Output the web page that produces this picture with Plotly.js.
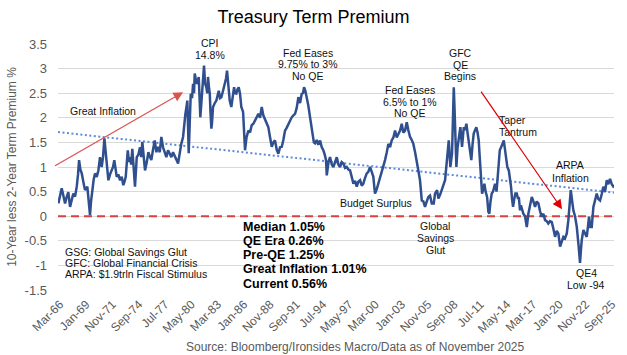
<!DOCTYPE html>
<html>
<head>
<meta charset="utf-8">
<script src="https://cdn.plot.ly/plotly-3.0.1.min.js"></script>
<style>html,body{margin:0;padding:0;background:#fff;}#chart{width:627px;height:355px;}</style>
</head>
<body>
<div id="chart"></div>
<script>
// Decimal-year dates and 10y-2y term premium (%)
const years = [
1965.99,1966.17,1966.35,1966.49,1966.71,1966.87,1967.06,1967.25,1967.41,1967.60,1967.79,1967.97,
1968.11,1968.22,1968.36,1968.51,1968.68,1968.86,1969.11,1969.26,1969.40,1969.51,1969.65,1969.80,1969.94,
1970.13,1970.30,1970.48,1970.66,1970.80,1970.95,1971.07,1971.20,1971.38,1971.56,1971.74,1971.88,
1972.02,1972.15,1972.28,1972.45,1972.64,1972.82,1972.99,1973.12,1973.25,1973.47,1973.61,1973.72,1973.84,1973.96,
1974.11,1974.25,1974.44,1974.61,1974.79,1974.92,1975.04,1975.19,1975.33,1975.52,1975.69,1975.87,
1976.01,1976.19,1976.38,1976.55,1976.73,1976.92,1977.09,1977.27,1977.46,1977.63,1977.81,1977.99,
1978.17,1978.35,1978.53,1978.71,1978.89,1979.07,1979.24,1979.43,1979.56,1979.68,1979.78,1979.89,1979.97,
1980.04,1980.15,1980.26,1980.40,1980.51,1980.61,1980.69,1980.83,1980.94,1981.12,1981.21,1981.29,1981.40,
1981.51,1981.61,1981.69,1981.80,1981.94,1982.04,1982.12,1982.23,1982.31,1982.39,1982.48,1982.55,1982.66,1982.85,
1983.02,1983.15,1983.28,1983.42,1983.56,1983.74,1983.92,1984.06,1984.17,1984.31,1984.46,1984.63,1984.79,1984.93,
1985.03,1985.17,1985.30,1985.43,1985.57,1985.71,1985.90,1986.02,1986.11,1986.27,1986.47,1986.65,1986.83,
1987.01,1987.19,1987.37,1987.55,1987.73,1987.91,1988.08,1988.27,1988.45,1988.62,1988.81,1988.99,
1989.16,1989.34,1989.53,1989.70,1989.88,1990.07,1990.24,1990.42,1990.61,1990.78,1990.96,
1991.14,1991.32,1991.50,1991.68,1991.86,1992.04,1992.22,1992.36,1992.47,1992.61,1992.76,1992.93,
1993.12,1993.26,1993.41,1993.53,1993.66,1993.84,1994.01,1994.20,1994.38,1994.55,1994.70,1994.84,1994.92,
1995.00,1995.11,1995.27,1995.46,1995.63,1995.81,1996.00,1996.17,1996.35,1996.53,1996.71,1996.89,
1997.07,1997.25,1997.43,1997.61,1997.79,1997.97,1998.15,1998.32,1998.51,1998.69,1998.86,
1999.05,1999.23,1999.40,1999.58,1999.77,1999.94,2000.04,2000.12,2000.31,2000.48,2000.66,2000.85,
2001.02,2001.20,2001.39,2001.56,2001.74,2001.92,2002.10,2002.28,2002.46,2002.64,2002.82,
2003.00,2003.17,2003.36,2003.54,2003.71,2003.90,2004.08,2004.25,2004.44,2004.62,2004.79,2004.97,
2005.08,2005.16,2005.33,2005.51,2005.70,2005.87,2006.05,2006.24,2006.45,2006.59,2006.81,2006.95,
2007.16,2007.31,2007.53,2007.67,2007.78,2007.88,2007.99,2008.07,2008.15,2008.24,2008.34,2008.42,
2008.51,2008.61,2008.69,2008.78,2008.89,2009.02,2009.15,2009.32,2009.42,2009.50,2009.61,2009.69,2009.82,2009.97,
2010.09,2010.22,2010.36,2010.50,2010.63,2010.76,2010.90,2011.04,2011.17,2011.30,2011.39,2011.47,2011.57,2011.66,
2011.79,2011.91,2012.04,2012.20,2012.34,2012.44,2012.57,2012.70,2012.84,2012.95,
2013.06,2013.22,2013.35,2013.46,2013.57,2013.71,2013.81,2013.92,2014.00,2014.14,2014.24,2014.38,2014.54,2014.68,2014.78,2014.89,
2015.00,2015.13,2015.25,2015.40,2015.54,2015.62,2015.75,2015.85,2016.11,2016.29,2016.48,2016.65,2016.83,
2017.02,2017.19,2017.37,2017.55,2017.73,2017.91,2018.09,2018.27,2018.45,2018.63,2018.80,2018.99,
2019.17,2019.34,2019.53,2019.71,2019.88,2020.07,2020.25,2020.42,2020.60,2020.79,2020.96,
2021.09,2021.22,2021.34,2021.50,2021.68,2021.87,2022.04,2022.14,2022.22,2022.31,2022.40,2022.58,2022.76,2022.94,
2023.08,2023.19,2023.33,2023.48,2023.66,2023.84,2024.02,2024.19,2024.38,2024.56,2024.73,2024.92,
2025.10,2025.27,2025.45,2025.64,2025.78,2025.88
];
const premium = [
0.26,0.40,0.57,0.45,0.26,0.38,0.49,0.19,0.35,0.46,0.40,0.60,
0.85,1.14,0.95,0.87,0.70,0.53,0.60,0.35,0.02,0.30,0.60,0.75,0.87,
0.80,0.93,1.20,1.00,1.20,1.58,1.30,1.14,0.73,0.85,0.93,1.00,
1.14,0.95,0.80,0.85,0.73,0.80,0.63,0.70,0.80,1.34,1.10,1.20,1.05,1.37,
1.00,0.60,1.20,1.25,1.40,1.20,1.51,1.20,0.93,1.10,1.30,1.20,
1.14,1.35,1.54,1.30,1.41,1.30,1.61,1.40,1.27,1.20,1.34,1.25,
1.20,1.30,1.24,1.15,1.07,1.30,1.47,1.61,1.90,2.08,2.20,2.35,1.80,
1.28,1.90,2.49,2.40,2.69,2.50,2.90,2.75,2.69,2.83,2.40,2.01,2.30,
2.55,2.80,3.06,2.70,2.62,2.50,2.83,2.60,2.49,2.10,1.78,1.90,2.22,2.30,
2.35,2.45,2.55,2.40,2.42,2.55,2.69,2.80,2.96,2.60,2.35,2.22,2.45,2.62,
2.50,2.49,2.58,2.62,2.49,2.22,2.12,1.70,1.34,1.60,1.74,1.70,1.85,
1.88,1.95,2.00,2.08,2.00,2.22,2.05,1.95,1.90,1.81,1.60,1.41,
1.50,1.54,1.35,1.27,1.40,1.41,1.55,1.74,1.80,1.88,1.95,
2.01,2.05,2.08,2.20,2.42,2.30,2.49,2.50,2.62,2.55,2.42,2.25,
2.01,1.80,1.61,1.50,1.48,1.55,1.45,1.54,1.40,1.34,1.25,1.14,0.83,
1.00,1.10,1.20,1.05,1.00,1.10,1.20,1.05,1.00,1.10,1.07,0.98,
1.00,0.95,0.93,0.80,0.66,0.72,0.60,0.70,0.73,0.62,0.66,
0.78,0.87,0.90,1.00,0.90,0.80,0.60,0.46,0.55,0.66,0.75,0.87,
1.00,1.14,1.30,1.47,1.40,1.54,1.60,1.74,1.60,1.68,1.74,
1.88,1.70,1.74,1.91,1.75,1.61,1.55,1.47,1.30,1.14,0.93,0.73,
0.46,0.32,0.30,0.19,0.30,0.39,0.42,0.26,0.26,0.46,0.53,0.36,
0.45,0.53,0.66,0.73,0.95,1.14,1.35,1.54,1.30,1.00,1.15,1.27,
1.90,2.62,2.20,1.81,1.00,1.40,1.61,1.81,1.60,1.41,1.65,1.81,1.75,1.88,
1.70,1.54,1.35,1.14,1.45,1.68,1.75,1.81,1.70,1.54,1.25,1.00,0.70,0.46,
0.55,0.66,0.50,0.39,0.09,0.05,0.30,0.46,0.50,0.60,
0.66,0.50,0.87,1.10,1.34,1.40,1.47,1.50,1.54,1.30,1.14,1.00,0.93,0.75,0.60,0.35,
0.19,0.35,0.46,0.46,0.35,0.39,0.12,0.22,0.05,0.00,-0.22,0.05,0.25,
0.39,0.30,0.19,0.30,0.26,0.10,-0.01,0.05,-0.08,-0.10,-0.15,-0.10,
-0.12,-0.25,-0.42,-0.30,-0.35,-0.62,-0.50,-0.42,-0.45,-0.35,-0.08,
0.20,0.53,0.35,0.12,0.00,-0.22,-0.55,-0.80,-0.95,-0.70,-0.49,-0.28,-0.35,-0.42,
-0.20,-0.01,-0.22,-0.22,0.19,0.30,0.46,0.35,0.32,0.45,0.60,0.50,
0.73,0.65,0.76,0.65,0.60,0.58
];
// Linear trend end points
const trendYears = [1965.95, 2025.88];
const trendValues = [1.71, 0.48];
// Zero reference
const zeroYears = [1965.95, 2025.88];
const zeroValues = [0, 0];
// Axis ticks
const xTickVals = [1966.167,1969.0,1971.833,1974.667,1977.5,1980.333,1983.167,1986.0,1988.833,1991.667,1994.5,
  1997.333,2000.167,2003.0,2005.833,2008.667,2011.5,2014.333,2017.167,2020.0,2022.833,2025.667];
const xTickText = ['Mar-66','Jan-69','Nov-71','Sep-74','Jul-77','May-80','Mar-83','Jan-86','Nov-88','Sep-91','Jul-94',
  'May-97','Mar-00','Jan-03','Nov-05','Sep-08','Jul-11','May-14','Mar-17','Jan-20','Nov-22','Sep-25'];
const yTickVals = [-1.5,-1,-0.5,0,0.5,1,1.5,2,2.5,3,3.5];
const yTickText = ['-1.5','-1','-0.5','0','0.5','1','1.5','2','2.5','3','3.5'];
const statsLines = ['Median 1.05%','QE Era 0.26%','Pre-QE 1.25%','Great Inflation 1.01%','Current 0.56%'];
const keyLines = ['GSG: Global Savings Glut','GFC: Global Financial Crisis','ARPA: $1.9trln Fiscal Stimulus'];

const F = 'Liberation Sans, Arial, sans-serif';
const traces = [
  {x: trendYears, y: trendValues, mode:'lines', line:{color:'#5B8BD8', width:2, dash:'2px,2.5px'}, hoverinfo:'skip'},
  {x: zeroYears, y: zeroValues, mode:'lines', line:{color:'#D94040', width:2, dash:'8px,5px'}, hoverinfo:'skip'},
  {x: years, y: premium, mode:'lines', line:{color:'#2F4F8F', width:2.5}, hoverinfo:'skip'}
];

function lab(x, y, text, opts) {
  return Object.assign({x:x, y:y, xref:'x', yref:'y', text:text, showarrow:false,
    font:{family:F, size:10.5, color:'#111'}, xanchor:'center', yanchor:'middle'}, opts||{});
}
const ann = [
  lab(1970.75, 2.14, 'Great Inflation'),
  lab(1982.34, 1.004, 'CPI', {yref:'paper'}), lab(1982.34, 3.27, '14.8%'),
  lab(1992.90, 3.32, 'Fed Eases'), lab(1992.90, 3.095, '9.75% to 3%'), lab(1992.90, 2.845, 'No QE'),
  lab(2003.90, 2.57, 'Fed Eases'), lab(2003.90, 2.33, '6.5% to 1%'), lab(2003.90, 2.09, 'No QE'),
  lab(2009.29, 3.31, 'GFC'), lab(2009.29, 3.07, 'QE'), lab(2009.29, 2.84, 'Begins'),
  lab(2013.27, 1.95, 'Taper', {xanchor:'left'}), lab(2013.27, 1.72, 'Tantrum', {xanchor:'left'}),
  lab(2021.14, 1.05, 'ARPA'), lab(2021.14, 0.78, 'Inflation'),
  lab(2000.18, 0.27, 'Budget Surplus'),
  lab(2006.59, -0.20, 'Global'), lab(2006.59, -0.44, 'Savings'), lab(2006.59, -0.68, 'Glut'),
  lab(2022.87, -1.16, 'QE4'), lab(2022.87, -1.40, 'Low -94'),
  {x:1979.43, y:2.52, ax:1965.31, ay:0.99, xref:'x', yref:'y', axref:'x', ayref:'y', text:' ',
   showarrow:true, arrowhead:2, arrowsize:1.6, arrowwidth:1.2, arrowcolor:'#D9534F', standoff:0, startstandoff:0},
  {x:2020.28, y:0.14, ax:2011.23, ay:2.62, xref:'x', yref:'y', axref:'x', ayref:'y', text:' ',
   showarrow:true, arrowhead:2, arrowsize:1.6, arrowwidth:1.2, arrowcolor:'#E00000', standoff:0, startstandoff:0},
  {x:0.534, y:-0.232, xref:'paper', yref:'paper', showarrow:false, xanchor:'center', yanchor:'middle',
   text:'Source: Bloomberg/Ironsides Macro/Data as of November 2025', font:{family:F, size:12, color:'#595959'}}
];
const keyY = [-0.72, -0.96, -1.18];
keyLines.forEach((t,i)=> ann.push(lab(1966.53, keyY[i], t, {xanchor:'left', font:{family:F, size:10.5, color:'#111'}})));
const statY = [-0.22, -0.50, -0.79, -1.08, -1.37];
statsLines.forEach((t,i)=> ann.push(lab(1985.65, statY[i], '<b>'+t+'</b>', {xanchor:'left',
  font:{family:'Liberation Sans Narrow, Arial Narrow, Liberation Sans, sans-serif', size:12.5, color:'#000'}})));

const layout = {
  width:627, height:355,
  margin:{l:58, r:13, t:44, b:65},
  paper_bgcolor:'#fff', plot_bgcolor:'#fff',
  showlegend:false, hovermode:false,
  title:{text:'Treasury Term Premium', x:0.5, xref:'container', y:0.952, yref:'container', yanchor:'middle',
    font:{family:F, size:18, color:'#000'}},
  xaxis:{type:'linear', range:[1965.95, 2025.88], tickvals:xTickVals, ticktext:xTickText, tickangle:-45,
    showgrid:false, zeroline:false, showline:false, ticks:'', ticklabelstandoff:4,
    tickfont:{family:F, size:12, color:'#595959'}, fixedrange:true},
  yaxis:{range:[-1.5, 3.5], tickvals:yTickVals, ticktext:yTickText, showgrid:true, gridcolor:'#D9D9D9', gridwidth:1,
    zeroline:false, showline:false, ticks:'', ticklabelstandoff:10,
    tickfont:{family:F, size:13, color:'#595959'},
    title:{text:'10-Year less 2-Year Term Premium %', standoff:5, font:{family:F, size:12, color:'#595959'}}, fixedrange:true},
  annotations: ann
};
Plotly.newPlot('chart', traces, layout, {displayModeBar:false, staticPlot:true});
</script>
</body>
</html>
